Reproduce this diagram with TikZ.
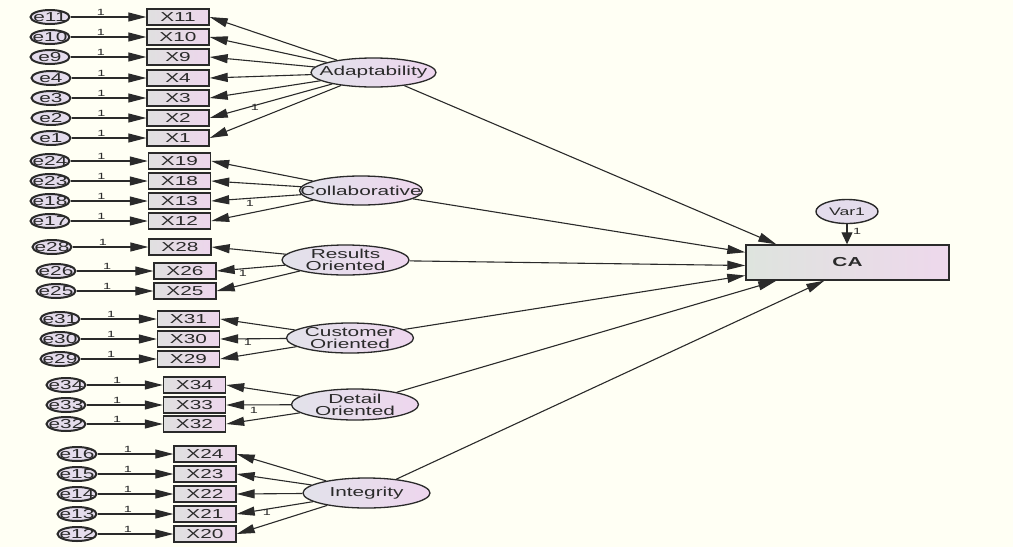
\documentclass[tikz,border=0pt]{standalone}
\usepackage{fontspec}
\setmainfont{Liberation Sans}[FakeStretch=1.6]
\usetikzlibrary{arrows.meta,shapes.geometric}
\definecolor{bgc}{HTML}{FFFFF4}
\definecolor{ink}{HTML}{2A2A2A}
\definecolor{boxl}{HTML}{E0E0E0}
\definecolor{boxr}{HTML}{EDD6EC}
\definecolor{latl}{HTML}{E2E2EA}
\definecolor{latr}{HTML}{EED6EE}
\definecolor{errf}{HTML}{E4DCEC}
\definecolor{cal}{HTML}{DEE4DE}
\definecolor{car}{HTML}{EED8EC}
\tikzset{
  obs/.style={rectangle, draw=ink, line width=1.4pt, minimum width=62pt, minimum height=16pt,
    inner sep=0pt, left color=boxl, right color=boxr, text=ink, font=\fontsize{13}{13}\selectfont},
  lat/.style={ellipse, draw=ink, line width=1.3pt, inner sep=0pt, left color=latl, right color=latr},
  lattext/.style={text=ink, align=center, font=\fontsize{13}{12}\selectfont, inner sep=0pt},
  err/.style={ellipse, draw=ink, line width=2pt, minimum width=39pt, minimum height=14pt,
    inner sep=0pt, fill=errf, text=ink, font=\fontsize{13}{13}\selectfont},
  conn/.style={draw=ink, line width=1.1pt, -{Triangle[length=18pt,width=9pt]}},
  one/.style={font=\fontsize{9}{9}\selectfont, text=ink, inner sep=0pt}
}
\begin{document}
\begin{tikzpicture}[x=1pt,y=-1pt]
\fill[bgc] (0,0) rectangle (1013,547);
\useasboundingbox (0,0) rectangle (1013,547);

% latent variables
\node[lat, minimum width=125pt, minimum height=29pt, label={[lattext]center:Adaptability}] (ad) at (373.5,72.5) {};
\node[lat, minimum width=123pt, minimum height=29pt, label={[lattext]center:Collaborative}] (co) at (361,190.5) {};
\node[lat, minimum width=127pt, minimum height=30pt, label={[lattext]center:Results\\Oriented}] (ro) at (345.5,260) {};
\node[lat, minimum width=127pt, minimum height=30pt, label={[lattext]center:Customer\\Oriented}] (cu) at (350,338) {};
\node[lat, minimum width=127pt, minimum height=31pt, label={[lattext]center:Detail\\Oriented}] (de) at (355,404.5) {};
\node[lat, minimum width=127pt, minimum height=30pt, label={[lattext]center:Integrity}] (in) at (366.5,493) {};

% outcome
\node[rectangle, draw=ink, line width=1.4pt, minimum width=203pt, minimum height=35pt, inner sep=0pt,
  left color=cal, right color=car, text=ink, font=\fontsize{13}{13}\selectfont\bfseries] (CA) at (847.5,262.5) {CA};
\node[ellipse, draw=ink, line width=1.4pt, minimum width=62pt, minimum height=24pt, inner sep=0pt,
  fill=errf, text=ink, font=\fontsize{11}{11}\selectfont] (v1) at (847,211.5) {\makebox[0pt]{Var1}};
\draw[draw=ink, line width=1.1pt, -{Triangle[length=12pt,width=11pt]}] (v1) -- (v1 |- CA.north);
\node[one] (v1one) at (857,231) {1};

% indicators with error terms
\foreach \e/\x/\y/\ex/\bx/\lv in {
  e11/X11/17/50/178/ad, e10/X10/37/50/178/ad, e9/X9/57/50/178/ad, e4/X4/78/51/178/ad,
  e3/X3/98/51/178/ad, e2/X2/118/51/178/ad, e1/X1/138/51/178/ad,
  e24/X19/161/50/179.5/co, e23/X18/181/50/179.5/co, e18/X13/201/50/179.5/co, e17/X12/221/50/179.5/co,
  e28/X28/247/52/180/ro, e26/X26/271/56/185/ro, e25/X25/291/56/185/ro,
  e31/X31/319/60/188.5/cu, e30/X30/339/60/188.5/cu, e29/X29/359/60/188.5/cu,
  e34/X34/385/66/194.5/de, e33/X33/405/66/194.5/de, e32/X32/424/66/194.5/de,
  e16/X24/454/77/205/in, e15/X23/474/77/205/in, e14/X22/494/77/205/in, e13/X21/514/77/205/in, e12/X20/534/77/205/in}
{
  \node[obs] (\x) at (\bx,\y) {\x};
  \node[err] (\e) at (\ex,\y) {\makebox[0pt]{\e}};
  \draw[conn] (\e) -- node[one, pos=0.4, above=1pt] {1} (\x);
  \draw[conn] (\lv) -- (\x.east);
}

% fixed loadings
\node[one] (l1) at (255,107) {1};
\node[one] (l2) at (250,203) {1};
\node[one] (l3) at (243,273) {1};
\node[one] (l4) at (248,342) {1};
\node[one] (l5) at (254,410) {1};
\node[one] (l6) at (267,512) {1};

% structural paths
\draw[conn] (ad) -- ([xshift=31pt]CA.north west);
\draw[conn] (co) -- ([yshift=-8pt]CA.north west);
\draw[conn] (ro) -- ([yshift=-3pt]CA.west);
\draw[conn] (cu) -- ([yshift=-13pt]CA.west);
\draw[conn] (de) -- ([xshift=31pt]CA.south west);
\draw[conn] (in) -- ([xshift=79pt]CA.south west);
\end{tikzpicture}
\end{document}
